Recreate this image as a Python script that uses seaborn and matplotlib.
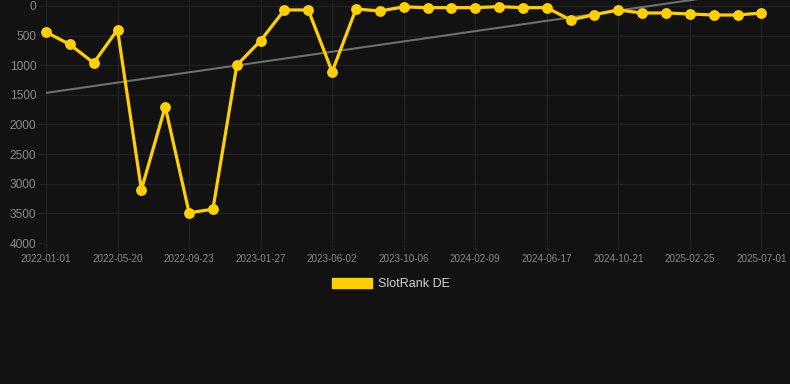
import numpy as np
import pandas as pd
import matplotlib
matplotlib.use("Agg")
import matplotlib.pyplot as plt
from matplotlib.patches import Patch
import seaborn as sns

# ---- data ----
ranks = [440, 650, 960, 400, 3100, 1700, 3490, 3430, 1000, 585, 67, 67, 1110, 51, 84,
         15, 28, 28, 28, 11, 28, 28, 236, 146, 67, 118, 118, 135, 152, 152, 118]
tick_labels = ["2022-01-01", "2022-05-20", "2022-09-23", "2023-01-27", "2023-06-02",
               "2023-10-06", "2024-02-09", "2024-06-17", "2024-10-21", "2025-02-25",
               "2025-07-01"]
series_name = "SlotRank DE"

BG = "#121212"
YELLOW = "#FFD000"
GRID = "#212121"
TICK = "#8a8a8a"

sns.set_theme(style="dark")
plt.rcParams["font.family"] = ["Liberation Sans", "DejaVu Sans"]

df = pd.DataFrame({"idx": np.arange(len(ranks)), "rank": ranks})

fig = plt.figure(figsize=(7.9, 3.84), dpi=100, facecolor=BG)
ax = fig.add_axes([46 / 790, 1 - 243 / 384, 1 - 46 / 790, 243 / 384])
ax.set_facecolor(BG)

sns.regplot(data=df, x="idx", y="rank", scatter=False, ci=None, ax=ax,
            line_kws=dict(color="#6e6e6e", lw=1.5, zorder=2))
sns.lineplot(data=df, x="idx", y="rank", ax=ax, color=YELLOW, lw=2.3,
             marker="o", markersize=7.8, markeredgewidth=0, zorder=3,
             clip_on=False)

ax.set_xlim(0, 31.2)
ax.set_ylim(4000, -101)
ax.set_yticks(np.arange(0, 4001, 500))
ax.set_xticks(np.arange(0, len(ranks), 3))
ax.set_xticklabels(tick_labels)
ax.set_xlabel("")
ax.set_ylabel("")

ax.grid(True, color=GRID, lw=1.0)
for s in ax.spines.values():
    s.set_visible(False)
ax.tick_params(axis="y", colors=GRID, labelcolor=TICK, labelsize=8.6,
               length=6, width=1.0, pad=1, left=True)
ax.tick_params(axis="x", colors=GRID, labelcolor=TICK, labelsize=7.1,
               length=6, width=1.0, pad=2, bottom=True)

handle = Patch(facecolor=YELLOW, edgecolor=YELLOW, label=series_name)
leg = fig.legend(handles=[handle], loc="center", bbox_to_anchor=(391 / 790, 1 - 284 / 384),
                 frameon=False, fontsize=9, handlelength=3.2, handleheight=0.85,
                 handletextpad=0.5, labelcolor="#d0d0d0")

fig.savefig("out.png", dpi=100, facecolor=BG)
